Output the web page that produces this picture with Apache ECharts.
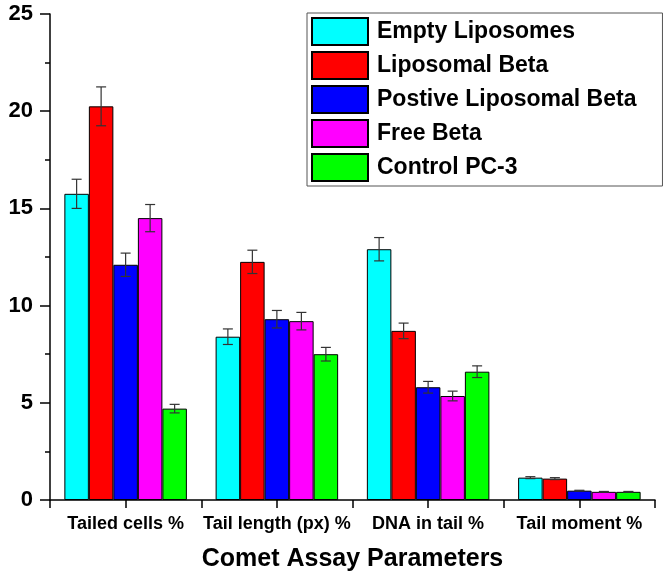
<!DOCTYPE html>
<html>
<head>
<meta charset="utf-8">
<script src="https://cdn.jsdelivr.net/npm/echarts@6/dist/echarts.min.js"></script>
<style>
html, body { margin: 0; padding: 0; background: #fff; }
#main { width: 669px; height: 585px; }
</style>
</head>
<body>
<div id="main"></div>
<script>
var categories = ['Tailed cells %', 'Tail length (px) %', 'DNA in tail %', 'Tail moment %'];
var seriesNames = ['Empty Liposomes', 'Liposomal Beta', 'Postive Liposomal Beta', 'Free Beta', 'Control PC-3'];
var colors = ['#00ffff', '#ff0000', '#0000ff', '#ff00ff', '#00ff00'];

var empty_lip = [15.75, 8.4, 12.9, 1.15];
var lip_beta = [20.25, 12.25, 8.7, 1.1];
var pos_beta = [12.1, 9.3, 5.8, 0.48];
var free_beta = [14.5, 9.2, 5.35, 0.42];
var control = [4.7, 7.5, 6.6, 0.42];

var empty_err = [0.75, 0.4, 0.6, 0.05];
var lip_err = [1.0, 0.6, 0.4, 0.05];
var pos_err = [0.6, 0.45, 0.3, 0.02];
var free_err = [0.7, 0.45, 0.25, 0.02];
var control_err = [0.22, 0.35, 0.3, 0.02];

var values = [empty_lip, lip_beta, pos_beta, free_beta, control];
var errors = [empty_err, lip_err, pos_err, free_err, control_err];

var FONT = 'Arial, "Liberation Sans", sans-serif';
var GAP = 0.19;

var myChart = echarts.init(document.getElementById('main'));

var series = [];
seriesNames.forEach(function (name, i) {
    series.push({
        name: name,
        type: 'bar',
        data: values[i],
        barGap: 0,
        barCategoryGap: (GAP * 100) + '%',
        itemStyle: { color: colors[i], borderColor: '#000', borderWidth: 1 }
    });
});

// error bars drawn on top of each bar
seriesNames.forEach(function (name, i) {
    series.push({
        type: 'custom',
        z: 5,
        silent: true,
        data: values[i].map(function (v, k) {
            return [k, v - errors[i][k], v + errors[i][k]];
        }),
        encode: { x: 0, y: [1, 2] },
        renderItem: function (params, api) {
            var band = api.size([1, 0])[0];
            var barW = band * (1 - GAP) / seriesNames.length;
            var off = (i - (seriesNames.length - 1) / 2) * barW;
            var lo = api.coord([api.value(0), api.value(1)]);
            var hi = api.coord([api.value(0), api.value(2)]);
            var x = lo[0] + off;
            var cap = 5;
            var st = { stroke: '#333', lineWidth: 1.2 };
            return {
                type: 'group',
                children: [
                    { type: 'line', shape: { x1: x, y1: lo[1], x2: x, y2: hi[1] }, style: st },
                    { type: 'line', shape: { x1: x - cap, y1: lo[1], x2: x + cap, y2: lo[1] }, style: st },
                    { type: 'line', shape: { x1: x - cap, y1: hi[1], x2: x + cap, y2: hi[1] }, style: st }
                ]
            };
        }
    });
});

var option = {
    animation: false,
    textStyle: { fontFamily: FONT },
    grid: { left: 50, right: 14, top: 14, bottom: 85 },
    legend: {
        data: seriesNames,
        orient: 'vertical',
        left: 307,
        top: 13,
        padding: [4, 26, 4, 4],
        itemWidth: 56,
        itemHeight: 27,
        itemGap: 5,
        borderColor: '#555',
        borderWidth: 1,
        icon: 'rect',
        textStyle: { fontFamily: FONT, fontSize: 23, fontWeight: 'bold', color: '#000', padding: [0, 0, 0, 4] }
    },
    xAxis: [{
        type: 'category',
        data: categories,
        name: 'Comet Assay Parameters',
        nameLocation: 'middle',
        nameGap: 47,
        nameTextStyle: { fontFamily: FONT, fontSize: 25, fontWeight: 'bold', color: '#000' },
        axisLine: { lineStyle: { color: '#000', width: 1.5 } },
        axisTick: { show: false },
        axisLabel: { interval: 0, fontFamily: FONT, fontSize: 18, fontWeight: 'bold', color: '#000', margin: 15 }
    }, {
        // ticks at both category centres and boundaries
        type: 'value',
        position: 'bottom',
        min: 0,
        max: 4,
        interval: 0.5,
        axisLine: { show: false },
        axisTick: { show: true, length: 8, lineStyle: { color: '#000', width: 1.5 } },
        axisLabel: { show: false },
        splitLine: { show: false }
    }],
    yAxis: {
        type: 'value',
        min: 0,
        max: 25,
        interval: 5,
        axisLine: { show: true, lineStyle: { color: '#000', width: 1.5 } },
        axisTick: { show: true, length: 10, lineStyle: { color: '#000', width: 1.5 } },
        minorTick: { show: true, splitNumber: 2, length: 5, lineStyle: { color: '#000', width: 1.5 } },
        splitLine: { show: false },
        axisLabel: { fontFamily: FONT, fontSize: 22, fontWeight: 'bold', color: '#000', margin: 17 }
    },
    series: series
};

myChart.setOption(option);
</script>
</body>
</html>
